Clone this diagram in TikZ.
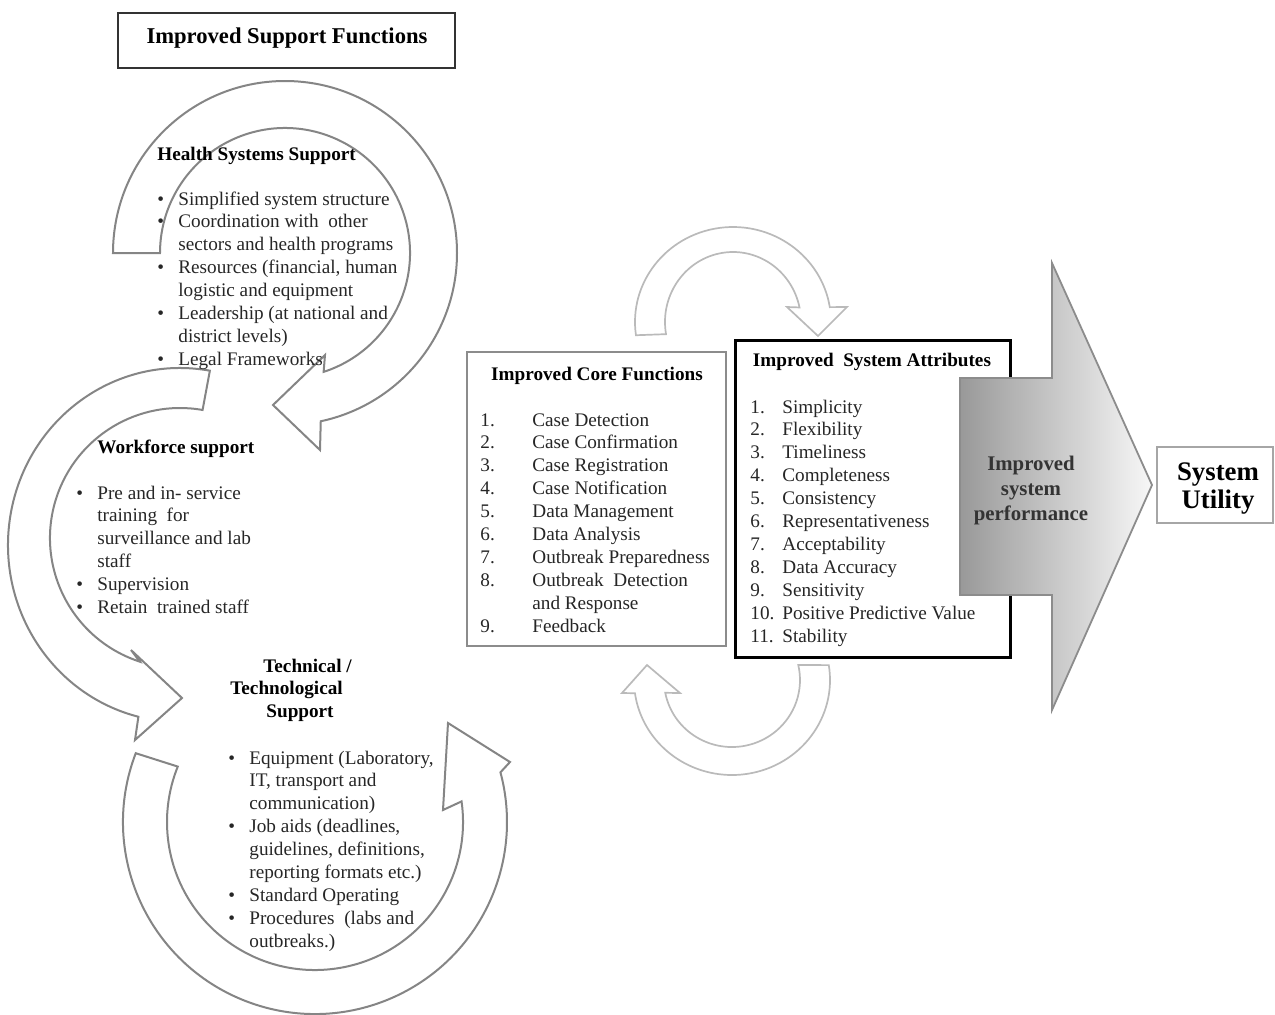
\documentclass[tikz,border=0pt]{standalone}
\usepackage{fontspec}
\setmainfont{Liberation Serif}
\usetikzlibrary{calc}
\newcommand\mybul{\makebox[10.5pt][l]{\textbullet}}
\newcommand\myind{\hspace*{10.5pt}}
\newcommand\numbox[2]{\makebox[#1][l]{#2}}
\begin{document}
\begin{tikzpicture}[x=0.5pt,y=-0.5pt,
  bigarrow/.style={draw=black!48,line width=1pt,fill=white,line join=miter},
  smallarrow/.style={draw=black!27,line width=0.85pt,fill=white,line join=miter},
  bodytext/.style={inner sep=0pt,anchor=base west,text=black!85,font=\fontsize{9.6}{11.45}\selectfont},
  hdtext/.style={inner sep=0pt,anchor=base west,text=black,font=\bfseries\fontsize{9.6}{11.45}\selectfont},
  boxshape/.style={inner sep=0pt,fill=white},
  perfshape/.style={draw=black!45,line width=0.9pt,left color=black!40,right color=black!3,line join=miter}
]
\useasboundingbox (0,0) rectangle (1275,1014);

% centres of the circular arrows
\coordinate (c1) at (285,253);
\coordinate (c2o) at (180,545);
\coordinate (c2i) at (180,538);
\coordinate (c3) at (315,822);
\coordinate (c4) at (733,322);
\coordinate (c5) at (732,680);

% top title box
\node[boxshape,draw=black!80,line width=1pt,minimum width=168.5pt,minimum height=27.5pt] (topbox) at (286.5,40.5) {};
\node[hdtext,anchor=base,font=\bfseries\fontsize{11.3}{13}\selectfont] (toptxt) at (287,43) {Improved Support Functions};

% Health systems support arrow
\draw[bigarrow] ($(c1)+(180:172)$) arc[start angle=180,end angle=438,radius=172]
  -- (320,450) -- (273,405) -- (325,355)
  -- ($(c1)+(72:125)$) arc[start angle=72,end angle=-180,radius=125] -- cycle;

% Workforce support arrow
\draw[bigarrow] ($(c2o)+(280:172 and 177)$) arc[start angle=280,end angle=104,x radius=172,y radius=177]
  -- (135,740) -- (182,698) -- (131,650)
  -- ($(c2i)+(108:130)$) arc[start angle=108,end angle=280,radius=130] -- cycle;

% Technical support arrow
\draw[bigarrow] ($(c3)+(201:192)$) arc[start angle=201,end angle=-15,radius=192]
  -- (510,762) -- (448,723) -- (443,810)
  -- ($(c3)+(-8:148)$) arc[start angle=-8,end angle=202,radius=148] -- cycle;

% small arrows between the boxes
\draw[smallarrow] ($(c4)+(172:98 and 95)$) arc[start angle=172,end angle=351,x radius=98,y radius=95]
  -- (847,307) -- (818,336) -- (787,307)
  -- ($(c4)+(348:68 and 70)$) arc[start angle=348,end angle=170,x radius=68,y radius=70] -- cycle;
\draw[smallarrow] ($(c5)+(-9:98 and 95)$) arc[start angle=-9,end angle=172,x radius=98,y radius=95]
  -- (622,693) -- (647,665) -- (680,693)
  -- ($(c5)+(169:68 and 67)$) arc[start angle=169,end angle=-13,x radius=68,y radius=67] -- cycle;

% Health systems text
\node[hdtext] (hsst) at (157,160) {Health Systems Support};
\node[bodytext] (hssl) at (157,205) {\begin{tabular}[t]{@{}l@{}}
\mybul Simplified system structure\\
\mybul Coordination with\ \ other\\
\myind sectors and health programs\\
\mybul Resources (financial, human\\
\myind logistic and equipment\\
\mybul Leadership (at national and\\
\myind district levels)\\
\mybul Legal Frameworks
\end{tabular}};

% Workforce text
\node[hdtext] (wft) at (97,453) {Workforce support};
\node[bodytext] (wfl) at (76,499) {\begin{tabular}[t]{@{}l@{}}
\mybul Pre and in- service\\
\myind training\ \ for\\
\myind surveillance and lab\\
\myind staff\\
\mybul Supervision\\
\mybul Retain\ \ trained staff
\end{tabular}};

% Technical text
\node[hdtext] (tct) at (230,672) {\begin{tabular}[t]{@{}l@{}}
\hspace*{16.5pt}Technical /\\
Technological\\
\hspace*{18pt}Support
\end{tabular}};
\node[bodytext] (tcl) at (228,764) {\begin{tabular}[t]{@{}l@{}}
\mybul Equipment (Laboratory,\\
\myind IT, transport and\\
\myind communication)\\
\mybul Job aids (deadlines,\\
\myind guidelines, definitions,\\
\myind reporting formats etc.)\\
\mybul Standard Operating\\
\mybul Procedures\ \ (labs and\\
\myind outbreaks.)
\end{tabular}};

% Core functions box
\node[boxshape,draw=black!45,line width=1.2pt,minimum width=129.5pt,minimum height=147pt] (core) at (596.5,499) {};
\node[hdtext,anchor=base] (coret) at (597,380) {Improved Core Functions};
\node[bodytext] (corel) at (480,426) {\begin{tabular}[t]{@{}l@{}}
\numbox{26pt}{1.}Case Detection\\
\numbox{26pt}{2.}Case Confirmation\\
\numbox{26pt}{3.}Case Registration\\
\numbox{26pt}{4.}Case Notification\\
\numbox{26pt}{5.}Data Management\\
\numbox{26pt}{6.}Data Analysis\\
\numbox{26pt}{7.}Outbreak Preparedness\\
\numbox{26pt}{8.}Outbreak\ \ Detection\\
\numbox{26pt}{}and Response\\
\numbox{26pt}{9.}Feedback
\end{tabular}};

% System attributes box
\node[boxshape,draw=black,line width=1.5pt,minimum width=137.5pt,minimum height=158.5pt] (attr) at (872.5,498.5) {};
\node[hdtext,anchor=base] (attrt) at (872,366) {Improved\ \ System Attributes};
\node[bodytext] (attrl) at (750,413) {\begin{tabular}[t]{@{}l@{}}
\numbox{16pt}{1.}Simplicity\\
\numbox{16pt}{2.}Flexibility\\
\numbox{16pt}{3.}Timeliness\\
\numbox{16pt}{4.}Completeness\\
\numbox{16pt}{5.}Consistency\\
\numbox{16pt}{6.}Representativeness\\
\numbox{16pt}{7.}Acceptability\\
\numbox{16pt}{8.}Data Accuracy\\
\numbox{16pt}{9.}Sensitivity\\
\numbox{16pt}{10.}Positive Predictive Value\\
\numbox{16pt}{11.}Stability
\end{tabular}};

% performance arrow
\draw[perfshape] (960,378) -- (1052,378) -- (1052,263) -- (1152,485) -- (1052,710) -- (1052,595) -- (960,595) -- cycle;
\node[hdtext,anchor=base,text=black!80,font=\bfseries\fontsize{10.4}{12.5}\selectfont] (perf) at (1031,470) {\begin{tabular}[t]{@{}c@{}}Improved\\system\\performance\end{tabular}};

% system utility
\node[boxshape,draw=black!35,line width=0.9pt,minimum width=58pt,minimum height=38pt] (sysu) at (1215,485) {};
\node[hdtext,anchor=base,font=\bfseries\fontsize{13.4}{14}\selectfont] (sysut) at (1218,480) {\begin{tabular}[t]{@{}c@{}}System\\Utility\end{tabular}};
\end{tikzpicture}
\end{document}
